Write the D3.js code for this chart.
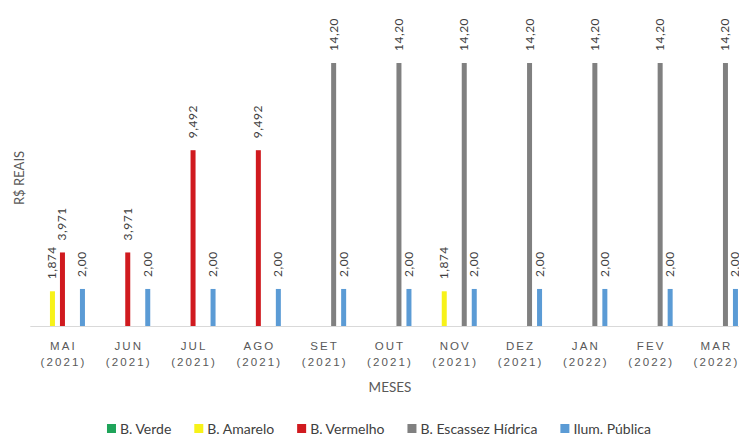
<!DOCTYPE html>
<html>
<head>
<meta charset="utf-8">
<script src="https://cdn.jsdelivr.net/npm/d3@7"></script>
<style>
  html, body { margin: 0; padding: 0; background: #fff; }
  svg { display: block; font-family: Lato, "Open Sans", sans-serif; }
</style>
</head>
<body>
<svg id="chart" width="739" height="439"></svg>
<script>
// Tariff flags per month (R$) and public lighting fee
const months = ["MAI", "JUN", "JUL", "AGO", "SET", "OUT", "NOV", "DEZ", "JAN", "FEV", "MAR"];
const years = ["(2021)", "(2021)", "(2021)", "(2021)", "(2021)", "(2021)", "(2021)", "(2021)", "(2022)", "(2022)", "(2022)"];

const verde    = [null, null, null, null, null, null, null, null, null, null, null];
const amarelo  = [1.874, null, null, null, null, null, 1.874, null, null, null, null];
const vermelho = [3.971, 3.971, 9.492, 9.492, null, null, null, null, null, null, null];
const escassez = [null, null, null, null, 14.20, 14.20, 14.20, 14.20, 14.20, 14.20, 14.20];
const ilum     = [2.00, 2.00, 2.00, 2.00, 2.00, 2.00, 2.00, 2.00, 2.00, 2.00, 2.00];

const seriesNames = ["B. Verde", "B. Amarelo", "B. Vermelho", "B. Escassez Hídrica", "Ilum. Pública"];
const seriesValues = [verde, amarelo, vermelho, escassez, ilum];
const seriesDecimals = [3, 3, 3, 2, 2];
const seriesColors = ["#1fa45a", "#f7f219", "#d01a1f", "#808080", "#5b9bd5"];

const svg = d3.select("#chart");
const baseY = 326;

const x = d3.scaleBand().domain(months).range([29.8, 29.8 + 65.3 * months.length]).padding(0);
const xs = d3.scaleBand().domain(d3.range(seriesNames.length)).range([-25, 25])
  .paddingInner(0.5).paddingOuter(0.25);
const y = d3.scaleLinear().domain([0, 16]).range([baseY, baseY - 16 * 18.52]);

const fmt = (v, d) => v.toFixed(d).replace(".", ",");

// bars
const data = [];
months.forEach((m, i) => {
  seriesValues.forEach((vals, s) => {
    if (vals[i] != null) data.push({ m, s, v: vals[i] });
  });
});

const cx = d => x(d.m) + x.bandwidth() / 2 + xs(d.s);

svg.append("g").selectAll("rect").data(data).join("rect")
  .attr("x", cx)
  .attr("y", d => y(d.v))
  .attr("width", xs.bandwidth())
  .attr("height", d => y(0) - y(d.v))
  .attr("fill", d => seriesColors[d.s]);

// value labels, rotated
svg.append("g").selectAll("text").data(data).join("text")
  .attr("transform", d => `translate(${cx(d) + xs.bandwidth() / 2 + 4},${y(d.v) - 12}) rotate(-90)`)
  .attr("text-anchor", "start")
  .attr("font-size", 12)
  .attr("letter-spacing", 0.5)
  .attr("fill", "#404040")
  .text(d => fmt(d.v, seriesDecimals[d.s]));

// category axis
const xAxis = d3.axisBottom(x).tickSize(0).tickFormat(() => "");
const gx = svg.append("g").attr("transform", `translate(0,${baseY})`).call(xAxis);
gx.select(".domain").attr("stroke", "#d9d9d9").attr("stroke-width", 1);
gx.selectAll(".tick").each(function (m, i) {
  const t = d3.select(this).append("text")
    .attr("fill", "#595959")
    .attr("font-size", 11.5)
    .attr("letter-spacing", 2.1)
    .attr("text-anchor", "middle");
  t.append("tspan").attr("x", 1).attr("y", 24).text(m);
  t.append("tspan").attr("x", 1).attr("y", 40).text(years[i]);
});

// axis titles
svg.append("text")
  .attr("x", 390).attr("y", 392)
  .attr("text-anchor", "middle")
  .attr("font-size", 13.5)
  .attr("fill", "#595959")
  .text("MESES");

svg.append("text")
  .attr("transform", "translate(24,178) rotate(-90)")
  .attr("text-anchor", "middle")
  .attr("font-size", 13)
  .attr("fill", "#595959")
  .text("R$ REAIS");

// legend
const legend = svg.append("g");
let lx = 0;
seriesNames.forEach((name, s) => {
  const g = legend.append("g").attr("transform", `translate(${lx},0)`);
  g.append("rect").attr("x", 0).attr("y", -10).attr("width", 9).attr("height", 9)
    .attr("fill", seriesColors[s]);
  const t = g.append("text").attr("x", 13).attr("y", 0)
    .attr("font-size", 14).attr("fill", "#404040").text(name);
  lx += 13 + t.node().getComputedTextLength() + 23;
});
const legendWidth = lx - 23;
legend.attr("transform", `translate(${379 - legendWidth / 2},434)`);
</script>
</body>
</html>
